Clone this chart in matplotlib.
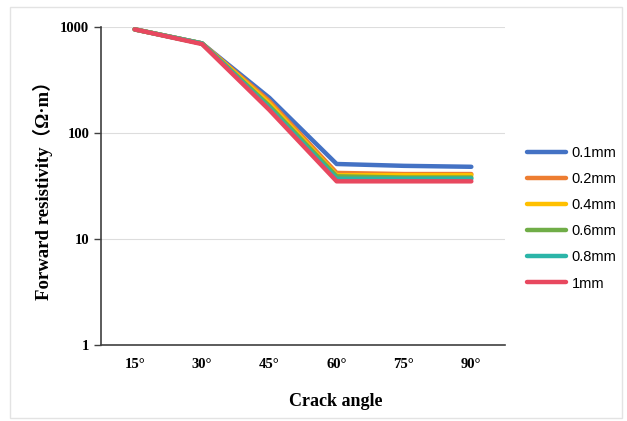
import matplotlib.pyplot as plt
from matplotlib.patches import Rectangle

# Data
angles = ['15°', '30°', '45°', '60°', '75°', '90°']
widths = ['0.1mm', '0.2mm', '0.4mm', '0.6mm', '0.8mm', '1mm']
colors = ['#4472C4', '#ED7D31', '#FFC000', '#70AD47', '#2BB5A8', '#E8485F']
r_01 = [950, 700, 215, 51, 49, 48]
r_02 = [950, 700, 200, 42, 41, 41]
r_04 = [950, 700, 190, 40, 40, 40]
r_06 = [950, 700, 180, 39, 38, 38]
r_08 = [950, 700, 172, 37, 37, 37]
r_1 = [950, 690, 165, 35, 35, 35]
series = [r_01, r_02, r_04, r_06, r_08, r_1]

fig = plt.figure(figsize=(6.27, 4.21), dpi=100)
ax = fig.add_axes([101/627, 1 - 345/421, 404/627, 318/421])

x = list(range(len(angles)))
for vals, lab, col in zip(series, widths, colors):
    ax.plot(x, vals, color=col, linewidth=3.2, label=lab, solid_capstyle='round')

ax.set_yscale('log')
ax.set_ylim(1, 1000)
ax.set_xlim(-0.5, len(angles) - 0.5)
ax.set_yticks([1, 10, 100, 1000])
ax.set_yticklabels(['1', '10', '100', '1000'])
ax.minorticks_off()
ax.set_xticks(x)
ax.set_xticklabels(angles)
ax.tick_params(axis='x', length=0, pad=9)
ax.tick_params(axis='y', length=5, width=1, color='#404040')
for lbl in ax.get_xticklabels() + ax.get_yticklabels():
    lbl.set_family('Liberation Serif')
    lbl.set_fontweight('bold')
    lbl.set_fontsize(10.5)

ax.grid(axis='y', color='#DDDDDD', linewidth=0.8)
ax.set_axisbelow(True)
for side in ['top', 'right']:
    ax.spines[side].set_visible(False)
ax.spines['left'].set_color('#404040')
ax.spines['bottom'].set_color('#404040')
ax.spines['left'].set_linewidth(1.2)
ax.spines['bottom'].set_linewidth(1.2)

ax.set_xlabel('Crack angle', family='Liberation Serif', fontweight='bold', fontsize=13, labelpad=14)
ax.xaxis.set_label_coords(0.58, -0.15)
ax.set_ylabel('Forward resistivity\uff08\u03a9\u00b7m\uff09', family=['Liberation Serif', 'Noto Sans CJK SC'],
              fontweight='bold', fontsize=13.5, labelpad=8)
ax.yaxis.set_label_coords(-0.12, 0.5)

leg = fig.legend(loc='upper left', bbox_to_anchor=(527/627, 1 - 146/421), frameon=False,
                 prop={'family': 'Liberation Sans', 'size': 10.5}, handlelength=2.7,
                 labelspacing=0.83, handletextpad=0.35, borderaxespad=0, borderpad=0)

# light outer border
fig.patches.append(Rectangle((10/627, 3/421), 612/627, 411/421, transform=fig.transFigure,
                             fill=False, edgecolor='#E3E3E3', linewidth=1))

plt.savefig('out.png', dpi=100)
